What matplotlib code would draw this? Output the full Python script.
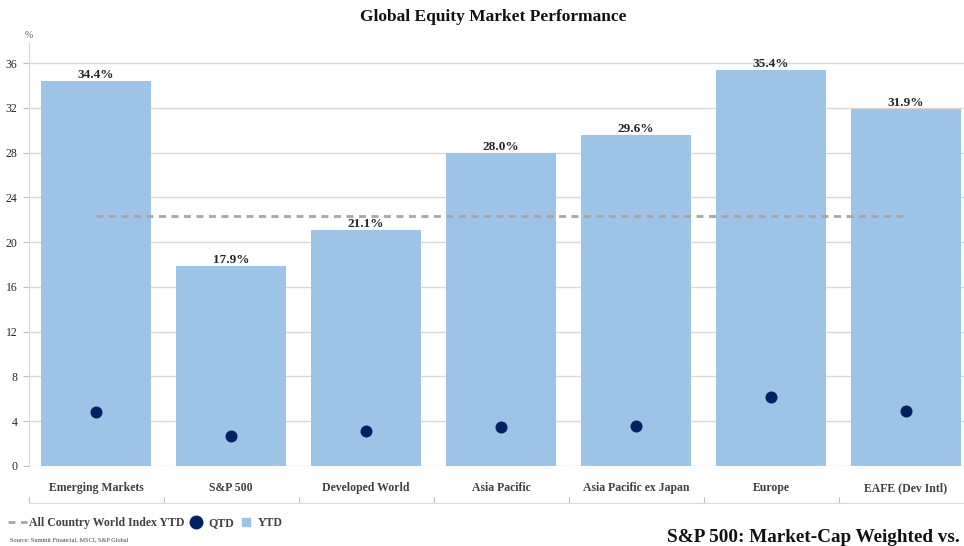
import matplotlib
matplotlib.use("Agg")
import matplotlib.pyplot as plt
from matplotlib.lines import Line2D
import numpy as np

categories = ["Emerging Markets", "S&P 500", "Developed World", "Asia Pacific",
              "Asia Pacific ex Japan", "Europe", "EAFE (Dev Intl)"]
ytd = [34.4, 17.9, 21.1, 28.0, 29.6, 35.4, 31.9]
qtd = [4.8, 2.7, 3.1, 3.5, 3.6, 6.2, 4.9]
acwi_ytd = 22.3
yticks = [0, 4, 8, 12, 16, 20, 24, 28, 32, 36]

BAR = "#9DC3E6"
NAVY = "#002060"
GRID = "#D9D9D9"
TXT = "#262626"
SERIF = ["Liberation Serif", "DejaVu Serif"]

W, H = 964, 546
fig = plt.figure(figsize=(W / 100, H / 100), dpi=100)
ax = fig.add_axes([28.5 / W, 80 / H, 945 / W, 423 / H])

x = np.arange(len(categories))
ax.bar(x, ytd, width=0.81, color=BAR, zorder=2)
ax.plot(x, [acwi_ytd] * len(x), ls=(0, (2.5, 2)), color="#A6A6A6", lw=2, zorder=3)
ax.scatter(x, qtd, s=58, color=NAVY, zorder=4)

for xi, v in zip(x, ytd):
    ax.annotate(f"{v:.1f}%", (xi, v), xytext=(0, 0), textcoords="offset pixels",
                ha="center", va="bottom", fontsize=9.5, fontweight="bold",
                family=SERIF, color=TXT)

ax.set_xlim(-0.5, len(categories) - 0.5)
ax.set_ylim(0, 37.8)
ax.set_yticks(yticks)
ax.set_yticklabels([str(t) for t in yticks], family=SERIF, fontsize=8.5, color=TXT)
ax.yaxis.grid(True, color=GRID, lw=1, zorder=0)
ax.set_axisbelow(True)
ax.tick_params(axis="y", length=4, color="#BFBFBF", pad=4)

# x axis: spine offset below labels, ticks at category boundaries
ax.set_xticks(np.arange(-0.5, len(categories), 1.0))
ax.set_xticklabels([])
ax.tick_params(axis="x", direction="in", length=4, color="#BFBFBF")
ax.spines["bottom"].set_position(("outward", 37 * 0.72))
ax.spines["bottom"].set_color("#D9D9D9")
ax.spines["left"].set_color("#D9D9D9")
ax.spines["top"].set_visible(False)
ax.spines["right"].set_visible(False)

for xi, c in zip(x, categories):
    ax.annotate(c, (xi, 0), xytext=(0, -25), textcoords="offset pixels",
                ha="center", va="baseline", fontsize=8.5, fontweight="bold",
                family=SERIF, color="#404040", annotation_clip=False)

fig.text(29 / W, 1 - 35 / H, "%", ha="center", va="center", fontsize=7,
         family=SERIF, color="#595959")

fig.text(493 / W, 1 - 17 / H, "Global Equity Market Performance", ha="center",
         va="center", fontsize=12.5, fontweight="bold", family=SERIF, color="#111111")

handles = [
    Line2D([], [], ls=(0, (2.5, 2)), color="#A6A6A6", lw=2),
    Line2D([], [], ls="none", marker="o", markersize=9, color=NAVY),
    Line2D([], [], ls="none", marker="s", markersize=6, color=BAR),
]
labels = ["All Country World Index YTD", "QTD", "YTD"]
fig.legend(handles, labels, loc="center left", bbox_to_anchor=(2 / W, 1 - 523 / H),
           ncol=3, frameon=False, handlelength=1.6, handletextpad=0.2,
           columnspacing=0.2, borderpad=0,
           prop={"family": SERIF, "weight": "bold", "size": 8.5})
for t in fig.legends[0].get_texts():
    t.set_color("#404040")

fig.text(10 / W, 1 - 540 / H, "Source: Summit Financial, MSCI, S&P Global",
         ha="left", va="center", fontsize=4.5, family=SERIF, color="#404040")

fig.text(667 / W, 1 - 537 / H, "S&P 500: Market-Cap Weighted vs.",
         ha="left", va="center", fontsize=13.8, fontweight="bold", family=SERIF,
         color="#111111")

fig.savefig("out.png", dpi=100)
